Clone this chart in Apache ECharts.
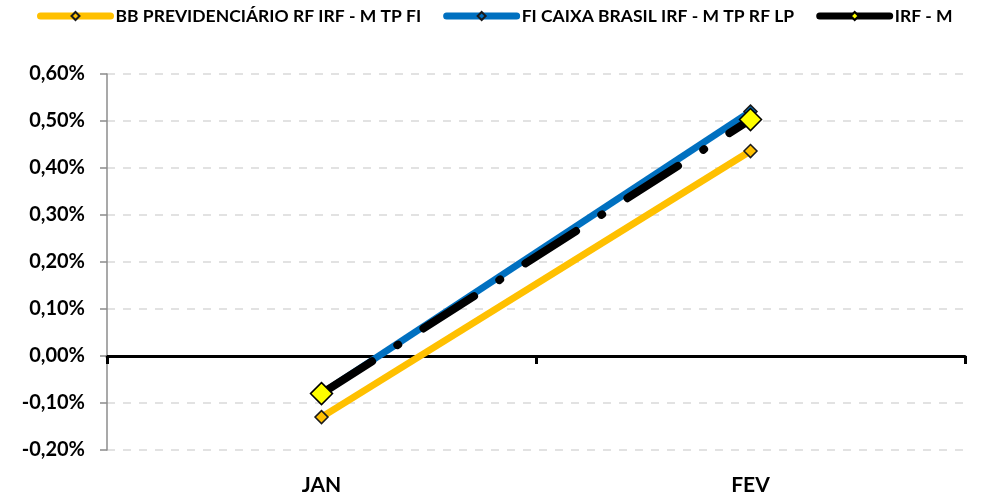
<!DOCTYPE html>
<html>
<head>
<meta charset="utf-8">
<script src="https://cdn.jsdelivr.net/npm/echarts@6/dist/echarts.min.js"></script>
<style>
  html, body { margin: 0; padding: 0; background: #fff; }
  #chart { width: 1000px; height: 496px; }
</style>
</head>
<body>
<div id="chart"></div>
<script>
// months
const categories = ['JAN', 'FEV'];
// monthly returns, in %
const bbPrev = [-0.13, 0.436];
const caixaBrasil = [-0.08, 0.52];
const irfM = [-0.08, 0.503];

const seriesNames = ['BB PREVIDENCIÁRIO RF IRF - M TP FI', 'FI CAIXA BRASIL IRF - M TP RF LP', 'IRF - M'];
const lineColors = ['#ffc000', '#0070c0', '#000'];

const font = 'Lato';
const pct = v => v.toFixed(2).replace('.', ',') + '%';

const chart = echarts.init(document.getElementById('chart'));

chart.setOption({
    animation: false,
    backgroundColor: '#fff',
    legend: {
        top: 7,
        left: 37,
        padding: 0,
        itemWidth: 70,
        itemHeight: 10,
        itemGap: 22,
        textStyle: { fontFamily: font, fontWeight: 'bold', fontSize: 17.5, color: '#000' },
        data: seriesNames.map((n, i) => ({
            name: n,
            lineStyle: { color: lineColors[i], width: 7, type: 'solid', cap: 'round' }
        }))
    },
    grid: { left: 107, right: 35, top: 74, bottom: 46, outerBoundsMode: 'none' },
    xAxis: [{
        type: 'category',
        data: categories,
        position: 'bottom',
        axisLine: { show: false, onZero: false },
        axisTick: { show: false },
        axisLabel: { margin: 25, fontFamily: font, fontWeight: 'bold', fontSize: 21, color: '#000' }
    }, {
        // zero line with category ticks
        type: 'category',
        data: categories,
        position: 'top',
        axisLine: { onZero: true, lineStyle: { color: '#000', width: 3 } },
        axisTick: { show: true, inside: true, length: 8, lineStyle: { color: '#000', width: 3 } },
        axisLabel: { show: false }
    }],
    yAxis: {
        type: 'value',
        min: -0.2,
        max: 0.6,
        interval: 0.1,
        axisLine: { show: true, onZero: false, lineStyle: { color: '#8c8c8c', width: 1.5 } },
        axisTick: { show: true, length: 7, lineStyle: { color: '#8c8c8c', width: 1.5 } },
        axisLabel: {
            margin: 22,
            fontFamily: font, fontWeight: 'bold', fontSize: 20, color: '#000',
            formatter: pct
        },
        splitLine: { lineStyle: { color: '#d9d9d9', type: [8, 8], width: 1.5 } }
    },
    series: [{
        name: seriesNames[0],
        type: 'line',
        data: bbPrev,
        symbol: 'diamond',
        symbolSize: 13,
        lineStyle: { color: lineColors[0], width: 7 },
        itemStyle: { color: '#ffc000', borderColor: '#1a1a1a', borderWidth: 1.5 },
        z: 2
    }, {
        name: seriesNames[1],
        type: 'line',
        data: caixaBrasil,
        symbol: 'diamond',
        symbolSize: 13,
        lineStyle: { color: lineColors[1], width: 7 },
        itemStyle: { color: '#0070c0', borderColor: '#1a1a1a', borderWidth: 1.5 },
        z: 3
    }, {
        name: seriesNames[2],
        type: 'line',
        data: irfM,
        symbol: 'diamond',
        symbolSize: 22,
        lineStyle: { color: lineColors[2], width: 8, type: [60, 30, 1, 30], cap: 'round' },
        itemStyle: { color: '#ffff00', borderColor: '#000', borderWidth: 1.5 },
        z: 4
    }]
});
</script>
</body>
</html>
